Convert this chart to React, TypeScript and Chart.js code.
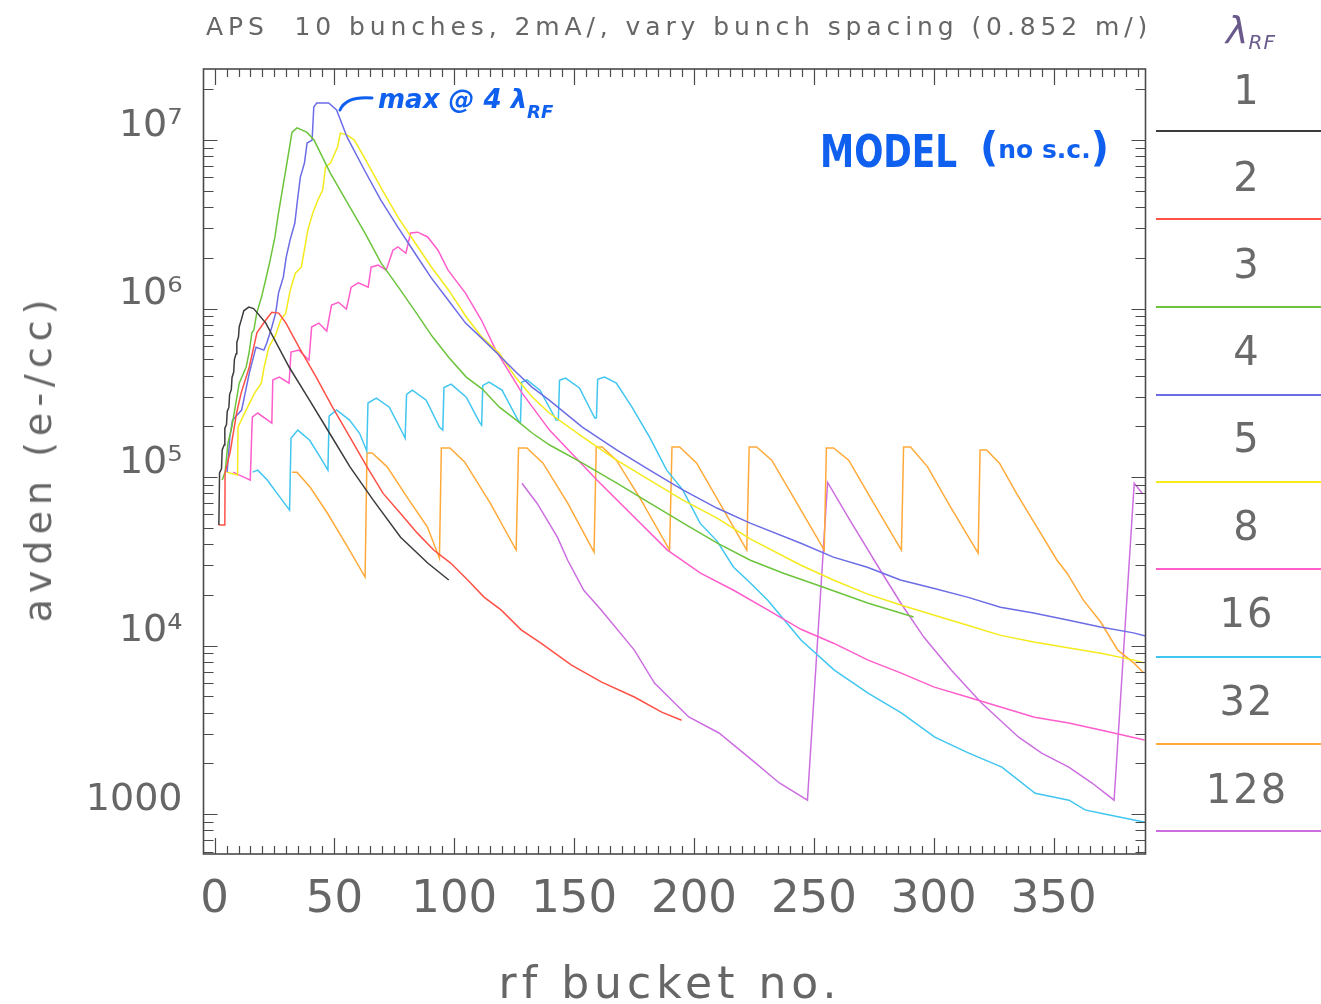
import React, { useEffect, useRef } from "react";
import { Chart, registerables } from "chart.js";

Chart.register(...registerables);

// Average electron density (e-/cc) versus rf bucket number, 10 bunches,
// one series per bunch spacing (in units of the rf wavelength).
type Pt = [number, number];

const lambda1: Pt[] = [
  [1.8, 5.2e4], [2.1, 1.06e5], [2.9, 1.12e5], [3.2, 1.45e5], [4.0, 1.55e5], [4.3, 1.95e5],
  [5.0, 2.05e5], [5.3, 2.45e5], [6.0, 2.6e5], [6.3, 3.1e5], [7.0, 3.3e5], [7.3, 3.9e5],
  [8.0, 4.2e5], [8.3, 5.0e5], [9.0, 5.4e5], [9.3, 6.3e5], [10.0, 6.8e5], [10.3, 7.8e5],
  [11.2, 8.6e5], [12.2, 9.7e5], [14.3, 1.02e6], [16.3, 1.0e6], [21.4, 8.2e5], [31.1, 4.5e5],
  [39.6, 2.86e5], [48.0, 1.82e5], [56.5, 1.15e5], [66.2, 7.3e4], [77.6, 4.4e4], [88.9, 3.09e4],
  [97.7, 2.45e4],
];

const lambda2: Pt[] = [
  [1.8, 5.2e4], [4.3, 5.2e4], [4.4, 1.06e5], [6.5, 1.4e5], [9.2, 2.4e5], [11.1, 3.15e5],
  [14.5, 4.5e5], [17.7, 7.2e5], [21.4, 8.55e5], [23.9, 9.5e5], [26.8, 9.4e5], [29.8, 8.2e5],
  [35.2, 5.9e5], [42.4, 3.92e5], [49.2, 2.6e5], [56.4, 1.73e5], [63.6, 1.15e5], [70.3, 8.0e4],
  [77.5, 6.1e4], [84.6, 4.65e4], [91.4, 3.69e4], [98.5, 3.09e4], [105.6, 2.45e4], [112.4, 1.94e4],
  [119.5, 1.63e4], [127.9, 1.24e4], [136.3, 1.03e4], [148.9, 7.66e3], [161.5, 6.07e3],
  [175.3, 4.94e3], [186.5, 4.03e3], [194.8, 3.61e3],
];

const lambda3: Pt[] = [
  [3.2, 9.6e4], [4.4, 1.07e5], [5.6, 1.59e5], [7.2, 1.98e5], [8.4, 2.5e5], [10.3, 3.61e5],
  [13.2, 4.5e5], [14.4, 5.45e5], [15.6, 7.2e5], [16.4, 7.45e5], [17.6, 9.4e5], [19.6, 1.17e6],
  [21.6, 1.54e6], [23.2, 1.94e6], [25.2, 2.66e6], [26.4, 3.49e6], [27.6, 4.41e6], [29.2, 6.03e6],
  [30.4, 7.6e6], [32.3, 1.11e7], [34.4, 1.18e7], [38.6, 1.11e7], [41.5, 1.0e7], [48.3, 6.37e6],
  [55.5, 4.23e6], [62.7, 2.81e6], [69.5, 1.86e6], [76.7, 1.34e6], [84.0, 9.5e5], [90.7, 6.87e5],
  [97.9, 5.09e5], [105.0, 3.92e5], [111.7, 3.33e5], [118.8, 2.6e5], [125.9, 2.18e5],
  [132.6, 1.82e5], [139.8, 1.55e5], [153.5, 1.21e5], [167.8, 9.2e4], [181.6, 7.0e4],
  [195.5, 5.33e4], [209.7, 4.06e4], [223.5, 3.21e4], [237.3, 2.69e4], [254.0, 2.22e4],
  [272.4, 1.79e4], [291.6, 1.48e4],
];

const lambda4: Pt[] = [
  [5.25, 1.07e5], [6.4, 1.73e5], [7.5, 2.18e5], [11.3, 2.5e5], [14.5, 4.14e5], [17.3, 5.9e5],
  [20.6, 5.67e5], [21.8, 6.24e5], [23.9, 7.77e5], [25.5, 9.4e5], [26.7, 1.24e6], [28.7, 1.54e6],
  [29.9, 2.02e6], [31.5, 2.55e6], [33.5, 3.22e6], [34.6, 4.41e6], [35.8, 6.03e6], [37.5, 7.3e6],
  [38.6, 9.6e6], [40.7, 1.0e7], [41.4, 1.57e7], [42.6, 1.66e7], [47.6, 1.66e7], [50.9, 1.51e7],
  [55.3, 1.04e7], [62.5, 6.64e6], [69.3, 4.41e6], [76.4, 3.05e6], [83.6, 2.13e6], [90.4, 1.52e6],
  [97.5, 1.12e6], [104.7, 8.2e5], [111.4, 6.68e5], [118.6, 5.3e5], [125.7, 4.2e5],
  [132.4, 3.42e5], [139.6, 2.86e5], [153.4, 1.98e5], [167.7, 1.45e5], [181.5, 1.1e5],
  [195.3, 8.4e4], [209.5, 6.55e4], [223.4, 5.33e4], [244.3, 4.06e4], [258.1, 3.35e4],
  [272.3, 2.92e4], [286.1, 2.45e4], [299.8, 2.19e4], [314.0, 1.94e4], [327.8, 1.69e4],
  [341.6, 1.56e4], [355.8, 1.42e4], [369.5, 1.29e4], [383.3, 1.19e4], [388.3, 1.14e4],
];

const lambda5: Pt[] = [
  [5.0, 1.07e5], [9.6, 1.03e5], [9.8, 1.98e5], [11.75, 2.27e5], [14.6, 2.75e5], [16.7, 3.15e5],
  [19.5, 3.61e5], [20.7, 4.5e5], [22.7, 5.92e5], [25.5, 6.97e5], [27.6, 8.55e5], [29.7, 9.4e5],
  [31.6, 1.29e6], [33.7, 1.62e6], [36.2, 1.76e6], [37.7, 2.32e6], [38.9, 2.92e6], [41.0, 3.69e6],
  [43.1, 4.41e6], [45.1, 5.05e6], [46.3, 6.92e6], [48.4, 7.3e6], [51.3, 9.1e6], [52.5, 1.1e7],
  [55.4, 1.07e7], [58.3, 1.0e7], [62.4, 7.93e6], [69.3, 5.26e6], [76.5, 3.49e6], [83.7, 2.45e6],
  [90.5, 1.76e6], [97.6, 1.29e6], [104.8, 9.0e5], [111.5, 6.77e5], [118.7, 5.45e5],
  [125.8, 3.87e5], [132.5, 2.99e5], [139.6, 2.4e5], [153.5, 1.73e5], [167.7, 1.26e5],
  [181.5, 9.6e4], [195.4, 7.3e4], [209.6, 5.71e4], [223.4, 4.3e4], [244.4, 3.01e4],
  [258.1, 2.45e4], [272.4, 2.02e4], [286.2, 1.74e4], [299.9, 1.52e4], [314.1, 1.32e4],
  [327.9, 1.15e4], [341.7, 1.05e4], [355.9, 9.7e3], [369.7, 9.0e3], [383.5, 8.2e3], [387.7, 7.9e3],
];

const lambda8: Pt[] = [
  [7.75, 1.07e5], [14.9, 9.6e4], [15.75, 2.27e5], [18.0, 2.4e5], [23.9, 2.09e5], [24.3, 3.77e5],
  [27.0, 3.92e5], [31.1, 3.61e5], [31.9, 5.52e5], [35.2, 5.67e5], [39.4, 4.94e5], [40.5, 7.77e5],
  [43.5, 8.2e5], [46.8, 7.35e5], [48.8, 1.05e6], [51.7, 1.09e6], [55.0, 9.93e5], [57.0, 1.34e6],
  [60.0, 1.42e6], [64.1, 1.34e6], [65.3, 1.76e6], [68.25, 1.81e6], [71.6, 1.69e6], [74.4, 2.22e6],
  [76.5, 2.32e6], [79.8, 2.13e6], [81.8, 2.81e6], [84.75, 2.84e6], [88.9, 2.66e6], [93.2, 2.22e6],
  [97.4, 1.69e6], [104.6, 1.24e6], [111.3, 8.55e5], [117.3, 5.67e5], [128.3, 3.15e5],
  [139.7, 1.9e5], [159.5, 9.6e4], [188.9, 3.69e4], [202.7, 2.69e4], [216.5, 2.13e4],
  [230.75, 1.63e4], [244.6, 1.25e4], [258.4, 1.03e4], [272.6, 8.2e3], [286.4, 6.87e3],
  [300.2, 5.67e3], [314.4, 4.94e3], [328.2, 4.31e3], [342.0, 3.76e3], [356.3, 3.47e3],
  [370.0, 3.15e3], [387.9, 2.75e3],
];

const lambda16: Pt[] = [
  [15.9, 1.07e5], [18.0, 1.1e5], [22.0, 9.6e4], [26.1, 8.0e4], [31.3, 6.37e4],
  [31.9, 1.7e5], [34.7, 1.9e5], [39.6, 1.66e5], [44.0, 1.32e5], [47.3, 1.1e5],
  [47.8, 2.3e5], [50.9, 2.5e5], [56.3, 2.18e5], [60.5, 1.82e5], [63.5, 1.43e5],
  [64.0, 2.75e5], [67.5, 2.94e5], [72.9, 2.6e5], [78.5, 1.82e5], [79.5, 1.7e5],
  [80.1, 3.1e5], [82.5, 3.28e5], [88.3, 2.86e5], [93.8, 1.98e5], [95.2, 1.9e5],
  [95.7, 3.4e5], [98.7, 3.56e5], [105.0, 2.98e5], [110.5, 2.12e5], [111.4, 2.03e5],
  [111.9, 3.5e5], [114.5, 3.66e5], [119.9, 3.28e5], [127.0, 2.12e5], [127.6, 2.12e5],
  [128.1, 3.65e5], [130.3, 3.77e5], [135.75, 3.28e5], [142.5, 2.18e5], [143.4, 2.18e5],
  [143.9, 3.75e5], [146.4, 3.87e5], [152.2, 3.38e5], [158.6, 2.24e5], [159.3, 2.24e5],
  [159.8, 3.8e5], [162.7, 3.92e5], [167.6, 3.61e5], [174.1, 2.6e5], [181.4, 1.73e5],
  [188.6, 1.1e5], [195.3, 8.4e4], [202.5, 5.33e4], [209.6, 4.17e4], [216.5, 2.92e4],
  [223.5, 2.35e4], [230.75, 1.86e4], [244.6, 1.08e4], [258.5, 7.16e3], [272.75, 5.2e3],
  [286.6, 3.97e3], [300.4, 2.86e3], [314.6, 2.3e3], [328.4, 1.9e3], [342.3, 1.33e3],
  [356.4, 1.21e3], [363.1, 1.06e3], [370.2, 1.01e3], [384.0, 920], [388.2, 896],
];

const lambda32: Pt[] = [
  [32.3, 1.07e5], [34.4, 1.07e5], [39.9, 8.7e4], [47.1, 6.1e4], [55.5, 3.85e4], [62.8, 2.55e4],
  [63.6, 1.39e5], [65.75, 1.39e5], [72.0, 1.15e5], [80.3, 7.6e4], [88.8, 5.05e4], [93.8, 3.3e4],
  [94.6, 1.49e5], [98.2, 1.49e5], [104.3, 1.23e5], [115.0, 7.0e4], [125.8, 3.69e4],
  [126.8, 1.49e5], [130.3, 1.49e5], [137.0, 1.21e5], [147.3, 7.0e4], [158.3, 3.59e4],
  [159.2, 1.51e5], [161.7, 1.51e5], [167.6, 1.26e5], [177.2, 7.6e4], [189.8, 3.69e4],
  [190.8, 1.51e5], [194.0, 1.51e5], [201.1, 1.21e5], [210.7, 7.0e4], [222.0, 3.69e4],
  [223.0, 1.51e5], [226.1, 1.51e5], [232.4, 1.26e5], [242.9, 7.0e4], [254.3, 3.69e4],
  [255.2, 1.49e5], [258.2, 1.49e5], [264.5, 1.26e5], [274.9, 7.0e4], [286.5, 3.69e4],
  [287.4, 1.51e5], [290.3, 1.51e5], [297.4, 1.15e5], [307.0, 6.64e4], [318.5, 3.54e4],
  [319.3, 1.45e5], [322.0, 1.45e5], [327.4, 1.21e5], [334.5, 8.0e4], [341.25, 5.56e4],
  [351.4, 3.21e4], [355.6, 2.69e4], [362.4, 1.86e4], [369.6, 1.38e4], [376.75, 9.4e3],
  [383.4, 7.9e3], [387.6, 6.87e3],
];

const lambda128: Pt[] = [
  [128.2, 9.2e4], [134.5, 7.0e4], [143.0, 4.4e4], [147.3, 3.21e4], [154.0, 2.13e4],
  [161.2, 1.63e4], [175.1, 9.4e3], [183.5, 5.99e3], [197.8, 3.77e3], [210.4, 3.03e3],
  [224.2, 2.09e3], [235.6, 1.53e3], [247.3, 1.21e3], [255.7, 9.3e4], [265.0, 5.56e4],
  [277.7, 2.8e4], [286.2, 1.79e4], [295.9, 1.12e4], [307.25, 7.16e3], [319.9, 4.56e3],
  [335.4, 2.86e3], [345.0, 2.3e3], [356.3, 1.9e3], [366.0, 1.53e3], [375.2, 1.21e3],
  [383.6, 9.2e4], [387.0, 8.0e4],
];

const spacingLabels = ["1", "2", "3", "4", "5", "8", "16", "32", "128"];
const seriesData = [lambda1, lambda2, lambda3, lambda4, lambda5, lambda8, lambda16, lambda32, lambda128];
const seriesColors = [
  "#3c3c3c", "#ff5046", "#6cc43c", "#6c6ce6", "#f4ea1c", "#ff5ccc", "#40c6f0", "#ffaa38", "#cc6ee0",
];

const xTickValues = [0, 50, 100, 150, 200, 250, 300, 350];
const yTickValues = [1e3, 1e4, 1e5, 1e6, 1e7];

const X_MIN = -4.6;
const X_MAX = 388.3;
const Y_MIN = 580;
const Y_MAX = 2.64e7;

const SUP: Record<string, string> = { "4": "\u2074", "5": "\u2075", "6": "\u2076", "7": "\u2077" };
const TEXT_FONT = "'DejaVu Sans', 'Liberation Sans', sans-serif";
const INK = "#666666";
const PEN = "#1060f0";

// Box frame with inward-pointing ticks on all four sides (log minors on y).
const frameTicks = {
  id: "frameTicks",
  afterDatasetsDraw(chart: any) {
    const { ctx, chartArea, scales } = chart;
    const { left, right, top, bottom } = chartArea;
    const xs = scales.x;
    const ys = scales.y;
    ctx.save();
    ctx.strokeStyle = "#4a4a4a";
    ctx.lineWidth = 1.6;
    ctx.strokeRect(left, top, right - left, bottom - top);
    ctx.lineWidth = 1.2;
    ctx.beginPath();
    for (let v = 0; v <= X_MAX; v += 5) {
      const px = Math.round(xs.getPixelForValue(v)) + 0.5;
      const len = v % 50 === 0 ? 16 : 8;
      ctx.moveTo(px, bottom);
      ctx.lineTo(px, bottom - len);
      ctx.moveTo(px, top);
      ctx.lineTo(px, top + len);
    }
    for (let d = 2; d <= 7; d++) {
      for (let m = 1; m <= 9; m++) {
        const v = m * Math.pow(10, d);
        if (v < Y_MIN || v > Y_MAX) continue;
        const py = Math.round(ys.getPixelForValue(v)) + 0.5;
        const len = m === 1 ? 14 : 10;
        ctx.moveTo(left, py);
        ctx.lineTo(left + len, py);
        ctx.moveTo(right, py);
        ctx.lineTo(right - len, py);
      }
    }
    ctx.stroke();
    ctx.restore();
  },
};

const legendRows = [
  { num: 90, line: 131 },
  { num: 177, line: 219 },
  { num: 264, line: 307 },
  { num: 351, line: 395 },
  { num: 438, line: 482 },
  { num: 526, line: 569 },
  { num: 613, line: 657 },
  { num: 701, line: 744 },
  { num: 789, line: 831 },
];

export default function App() {
  const canvasRef = useRef<HTMLCanvasElement | null>(null);

  useEffect(() => {
    document.body.style.margin = "0";
    const canvas = canvasRef.current;
    if (!canvas) return;
    const chart = new Chart(canvas, {
      type: "scatter",
      data: {
        datasets: seriesData.map((pts, i) => ({
          label: spacingLabels[i],
          data: pts.map(([x, y]) => ({ x, y })),
          borderColor: seriesColors[i],
          backgroundColor: seriesColors[i],
          borderWidth: 1.5,
          pointRadius: 0,
          showLine: true,
          fill: false,
          tension: 0,
        })),
      },
      options: {
        responsive: false,
        animation: false,
        devicePixelRatio: 1,
        layout: { padding: { left: 0, right: 175.5, top: 69, bottom: 0 } },
        plugins: {
          legend: { display: false },
          tooltip: { enabled: false },
          title: { display: false },
        },
        scales: {
          x: {
            type: "linear",
            min: X_MIN,
            max: X_MAX,
            grid: { display: false },
            border: { display: false },
            afterBuildTicks: (scale: any) => {
              scale.ticks = xTickValues.map((value) => ({ value }));
            },
            afterFit: (scale: any) => {
              scale.height = 150;
            },
            ticks: {
              autoSkip: false,
              maxRotation: 0,
              padding: 11,
              color: INK,
              font: { family: TEXT_FONT, size: 45, weight: "normal" },
              callback: (v: any) => String(v),
            },
          },
          y: {
            type: "logarithmic",
            min: Y_MIN,
            max: Y_MAX,
            grid: { display: false },
            border: { display: false },
            afterBuildTicks: (scale: any) => {
              scale.ticks = yTickValues.map((value) => ({ value }));
            },
            afterFit: (scale: any) => {
              scale.width = 203.5;
            },
            ticks: {
              autoSkip: false,
              padding: 13,
              labelOffset: -14,
              color: INK,
              font: { family: TEXT_FONT, size: 38, weight: "normal" },
              callback: (v: any) => {
                const e = Math.round(Math.log10(Number(v)));
                return e === 3 ? "1000" : "10" + SUP[String(e)];
              },
            },
          },
        },
      },
      plugins: [frameTicks],
    } as any);
    return () => chart.destroy();
  }, []);

  return (
    <div
      style={{
        position: "relative",
        width: 1321,
        height: 1004,
        background: "#ffffff",
        overflow: "hidden",
        fontFamily: TEXT_FONT,
        color: INK,
      }}
    >
      <canvas
        ref={canvasRef}
        width={1321}
        height={1004}
        style={{ position: "absolute", left: 0, top: 0, width: 1321, height: 1004 }}
      />

      {/* plot title */}
      <div
        style={{
          position: "absolute",
          left: 206,
          top: 10,
          fontSize: 25,
          letterSpacing: "4.9px",
          whiteSpace: "pre",
          lineHeight: "34px",
        }}
      >
        {"APS  10 bunches, 2mA/, vary bunch spacing (0.852 m/)"}
      </div>

      {/* y axis title */}
      <div
        style={{
          position: "absolute",
          left: 38,
          top: 458,
          transform: "translate(-50%, -50%) rotate(-90deg)",
          fontSize: 38,
          letterSpacing: "6px",
          whiteSpace: "pre",
        }}
      >
        avden (e-/cc)
      </div>

      {/* x axis title */}
      <div
        style={{
          position: "absolute",
          left: 670,
          top: 982,
          transform: "translate(-50%, -50%)",
          fontSize: 44,
          letterSpacing: "5px",
          whiteSpace: "pre",
        }}
      >
        rf bucket no.
      </div>

      {/* spacing key */}
      <div
        style={{
          position: "absolute",
          left: 1226,
          top: 8,
          color: "#6a5a8c",
          fontStyle: "italic",
          whiteSpace: "pre",
        }}
      >
        <span style={{ fontSize: 38 }}>λ</span>
        <span style={{ fontSize: 20, position: "relative", top: 6, letterSpacing: "1px" }}>RF</span>
      </div>
      {legendRows.map((row, i) => (
        <React.Fragment key={spacingLabels[i]}>
          <div
            style={{
              position: "absolute",
              left: 1247,
              top: row.num,
              transform: "translate(-50%, -50%)",
              fontSize: 40,
              letterSpacing: "2px",
              color: "#6a6a6a",
              whiteSpace: "pre",
            }}
          >
            {spacingLabels[i]}
          </div>
          <div
            style={{
              position: "absolute",
              left: 1156,
              top: row.line - 1,
              width: 165,
              height: 1.6,
              background: seriesColors[i],
            }}
          />
        </React.Fragment>
      ))}

      {/* pen annotations */}
      <svg width={60} height={30} style={{ position: "absolute", left: 334, top: 88 }}>
        <path d="M 6 22 Q 12 8 38 10" stroke={PEN} strokeWidth={3} fill="none" strokeLinecap="round" />
      </svg>
      <div
        style={{
          position: "absolute",
          left: 378,
          top: 84,
          color: PEN,
          fontStyle: "italic",
          fontWeight: "bold",
          whiteSpace: "pre",
        }}
      >
        <span style={{ fontSize: 26 }}>max @ 4 λ</span>
        <span style={{ fontSize: 18, position: "relative", top: 10 }}>RF</span>
      </div>
      <div
        style={{
          position: "absolute",
          left: 820,
          top: 126,
          color: PEN,
          fontWeight: "bold",
          whiteSpace: "pre",
          fontSize: 44,
          transform: "scaleX(0.78)",
          transformOrigin: "left center",
        }}
      >
        MODEL
      </div>
      <div
        style={{
          position: "absolute",
          left: 980,
          top: 124,
          color: PEN,
          fontWeight: "bold",
          whiteSpace: "pre",
        }}
      >
        <span style={{ fontSize: 40 }}>(</span>
        <span style={{ fontSize: 25, position: "relative", top: -3 }}>no s.c.</span>
        <span style={{ fontSize: 40 }}>)</span>
      </div>
    </div>
  );
}
